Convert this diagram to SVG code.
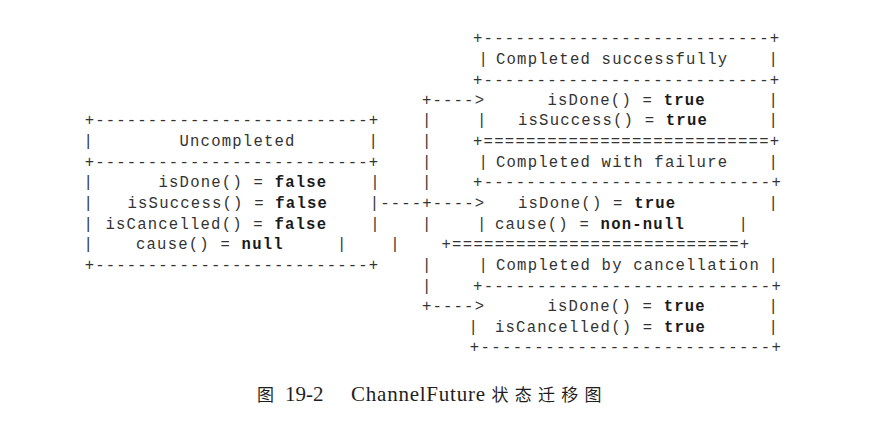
<svg xmlns="http://www.w3.org/2000/svg" width="892" height="432" viewBox="0 0 892 432" xml:space="preserve">
<style>
.t{font-family:"Liberation Mono","DejaVu Sans Mono",monospace;font-size:15.6px;letter-spacing:1.2px;fill:#333333;white-space:pre}
.b{font-weight:bold;fill:#1a1a1a}
.cap{font-family:"Liberation Serif","Times New Roman",serif;font-size:21px;fill:#1e1e1e}
.cjk{font-family:"Noto Sans CJK SC","Noto Sans CJK JP",sans-serif;font-size:17px;fill:#1e1e1e}
</style>
<rect width="892" height="432" fill="#ffffff"/>

<g id="uncompleted">
<text class="t" x="84.7" y="125" textLength="294.6" lengthAdjust="spacing">+--------------------------+</text>
<text class="t" x="83.5" y="146">|</text>
<text class="t" x="179.5" y="146">Uncompleted</text>
<text class="t" x="368.5" y="146">|</text>
<text class="t" x="84.7" y="167" textLength="294.6" lengthAdjust="spacing">+--------------------------+</text>
<text class="t" x="83.5" y="187">|</text>
<text class="t" x="158.5" y="187">isDone() = <tspan class="b">false</tspan></text>
<text class="t" x="370.2" y="187">|</text>
<text class="t" x="83.5" y="208">|</text>
<text class="t" x="127.5" y="208">isSuccess() = <tspan class="b">false</tspan></text>
<text class="t" x="83.5" y="229">|</text>
<text class="t" x="105.5" y="229">isCancelled() = <tspan class="b">false</tspan></text>
<text class="t" x="370.2" y="229">|</text>
<text class="t" x="83.5" y="249">|</text>
<text class="t" x="136" y="249">cause() = <tspan class="b">null</tspan></text>
<text class="t" x="336.9" y="249">|</text>
<text class="t" x="84.7" y="270" textLength="294.6" lengthAdjust="spacing">+--------------------------+</text>
</g>

<g id="completed-successfully">
<text class="t" x="473" y="43" textLength="307.3" lengthAdjust="spacing">+---------------------------+</text>
<text class="t" x="478.5" y="64">|</text>
<text class="t" x="496" y="64">Completed successfully</text>
<text class="t" x="768.5" y="64">|</text>
<text class="t" x="473" y="85" textLength="307.3" lengthAdjust="spacing">+---------------------------+</text>
<text class="t" x="547.5" y="105">isDone() = <tspan class="b">true</tspan></text>
<text class="t" x="768.5" y="105">|</text>
<text class="t" x="476.9" y="125">|</text>
<text class="t" x="518" y="125">isSuccess() = <tspan class="b">true</tspan></text>
<text class="t" x="768.5" y="125">|</text>
<text class="t" x="473" y="146" textLength="307.3" lengthAdjust="spacing">+===========================+</text>
</g>

<g id="completed-with-failure">
<text class="t" x="478.5" y="167">|</text>
<text class="t" x="496" y="167">Completed with failure</text>
<text class="t" x="768.5" y="167">|</text>
<text class="t" x="473" y="187" textLength="309" lengthAdjust="spacing">+---------------------------+</text>
<text class="t" x="518" y="208">isDone() = <tspan class="b">true</tspan></text>
<text class="t" x="768.5" y="208">|</text>
<text class="t" x="476.9" y="229">|</text>
<text class="t" x="495" y="229">cause() = <tspan class="b">non-null</tspan></text>
<text class="t" x="738.5" y="229">|</text>
<text class="t" x="441.4" y="249" textLength="309" lengthAdjust="spacing">+===========================+</text>
</g>

<g id="completed-by-cancellation">
<text class="t" x="478.5" y="270">|</text>
<text class="t" x="496" y="270">Completed by cancellation</text>
<text class="t" x="768.5" y="270">|</text>
<text class="t" x="473" y="291" textLength="309" lengthAdjust="spacing">+---------------------------+</text>
<text class="t" x="547.5" y="311">isDone() = <tspan class="b">true</tspan></text>
<text class="t" x="768.5" y="311">|</text>
<text class="t" x="468.5" y="332">|</text>
<text class="t" x="495" y="332">isCancelled() = <tspan class="b">true</tspan></text>
<text class="t" x="768.5" y="332">|</text>
<text class="t" x="469.7" y="352" textLength="312.3" lengthAdjust="spacing">+---------------------------+</text>
</g>

<g id="connectors">
<text class="t" x="421.9" y="105">+----&gt;</text>
<text class="t" x="421.9" y="125">|</text>
<text class="t" x="421.9" y="146">|</text>
<text class="t" x="421.9" y="167">|</text>
<text class="t" x="421.9" y="187">|</text>
<text class="t" x="369.7" y="208" textLength="115.5" lengthAdjust="spacing">|----+----&gt;</text>
<text class="t" x="421.9" y="229">|</text>
<text class="t" x="390.2" y="249">|</text>
<text class="t" x="421.9" y="270">|</text>
<text class="t" x="421.9" y="291">|</text>
<text class="t" x="421.9" y="311">+----&gt;</text>
</g>

<g id="caption">
<text class="cjk" x="257" y="401">图</text>
<text class="cap" x="285" y="401">19-2</text>
<text class="cap" x="351" y="401" textLength="134" lengthAdjust="spacing">ChannelFuture</text>
<text class="cjk" x="491.5" y="401" textLength="110" lengthAdjust="spacing">状态迁移图</text>
</g>
</svg>
